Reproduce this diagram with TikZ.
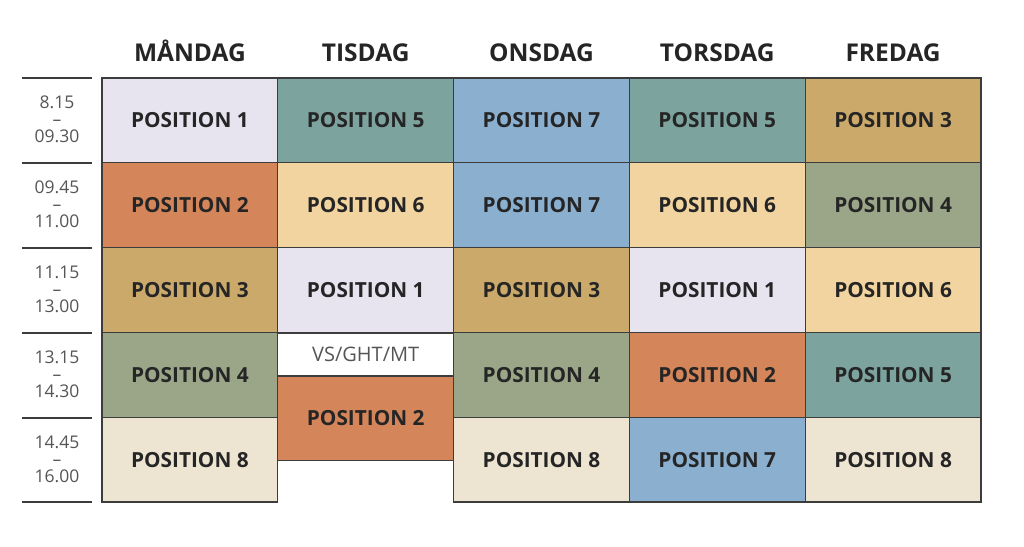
\documentclass[tikz,border=0pt]{standalone}
\usepackage{fontspec}
\setmainfont{Open Sans}
\definecolor{cA}{HTML}{E7E4F0}
\definecolor{cB}{HTML}{D4855A}
\definecolor{cC}{HTML}{CBA96B}
\definecolor{cD}{HTML}{9BA688}
\definecolor{cE}{HTML}{7DA39E}
\definecolor{cF}{HTML}{F2D4A0}
\definecolor{cG}{HTML}{8AAFCF}
\definecolor{cH}{HTML}{EDE4D2}
\definecolor{edge}{HTML}{3C3C3C}
\definecolor{txt}{HTML}{252525}
\definecolor{gtxt}{HTML}{555555}
\begin{document}
\begin{tikzpicture}[x=1pt,y=-1pt,
  cell/.style={draw=edge,line width=1.2pt,minimum width=175.8pt,minimum height=84.8pt,inner sep=0pt,
    font=\fontsize{20.8}{21}\selectfont\bfseries,text=txt},
  half/.style={cell,minimum height=43pt},
  day/.style={anchor=base,font=\fontsize{24.5}{25}\selectfont\bfseries,text=txt},
  tlabel/.style={align=center,font=\fontsize{17.5}{17}\selectfont,text=gtxt},
  sep/.style={line width=2.4pt,draw=edge}]
\useasboundingbox (0,0) rectangle (1024,546);
% headers
\node[day] (hmon) at (189.9,61) {MÅNDAG};
\node[day] (htue) at (365.7,61) {TISDAG};
\node[day] (hwed) at (541.5,61) {ONSDAG};
\node[day] (hthu) at (717.3,61) {TORSDAG};
\node[day] (hfri) at (893.1,61) {FREDAG};
% time separators
\foreach \y [count=\i] in {78,163,248,333,418,502}{
  \coordinate (sl\i) at (22,\y); \coordinate (sr\i) at (92,\y);
  \draw[sep] (sl\i) -- (sr\i);
}
\node[tlabel] (t1) at (57,119.5) {8.15\\–\\09.30};
\node[tlabel] (t2) at (57,204.5) {09.45\\–\\11.00};
\node[tlabel] (t3) at (57,289.5) {11.15\\–\\13.00};
\node[tlabel] (t4) at (57,374.5) {13.15\\–\\14.30};
\node[tlabel] (t5) at (57,459.5) {14.45\\–\\16.00};
% Monday
\node[cell,fill=cA] (m1) at (189.9,120.4) {POSITION 1};
\node[cell,fill=cB] (m2) at (189.9,205.2) {POSITION 2};
\node[cell,fill=cC] (m3) at (189.9,290.0) {POSITION 3};
\node[cell,fill=cD] (m4) at (189.9,374.8) {POSITION 4};
\node[cell,fill=cH] (m5) at (189.9,459.6) {POSITION 8};
% Tuesday
\node[cell,fill=cE] (u1) at (365.7,120.4) {POSITION 5};
\node[cell,fill=cF] (u2) at (365.7,205.2) {POSITION 6};
\node[cell,fill=cA] (u3) at (365.7,290.0) {POSITION 1};
\node[half,fill=white,font=\fontsize{20}{20}\selectfont,text=gtxt] (u4) at (365.7,354.5) {VS/GHT/MT};
\node[cell,fill=cB] (u5) at (365.7,418.4) {POSITION 2};
% Wednesday
\node[cell,fill=cG] (w1) at (541.5,120.4) {POSITION 7};
\node[cell,fill=cG] (w2) at (541.5,205.2) {POSITION 7};
\node[cell,fill=cC] (w3) at (541.5,290.0) {POSITION 3};
\node[cell,fill=cD] (w4) at (541.5,374.8) {POSITION 4};
\node[cell,fill=cH] (w5) at (541.5,459.6) {POSITION 8};
% Thursday
\node[cell,fill=cE] (h1) at (717.3,120.4) {POSITION 5};
\node[cell,fill=cF] (h2) at (717.3,205.2) {POSITION 6};
\node[cell,fill=cA] (h3) at (717.3,290.0) {POSITION 1};
\node[cell,fill=cB] (h4) at (717.3,374.8) {POSITION 2};
\node[cell,fill=cG] (h5) at (717.3,459.6) {POSITION 7};
% Friday
\node[cell,fill=cC] (f1) at (893.1,120.4) {POSITION 3};
\node[cell,fill=cD] (f2) at (893.1,205.2) {POSITION 4};
\node[cell,fill=cF] (f3) at (893.1,290.0) {POSITION 6};
\node[cell,fill=cE] (f4) at (893.1,374.8) {POSITION 5};
\node[cell,fill=cH] (f5) at (893.1,459.6) {POSITION 8};
\end{tikzpicture}
\end{document}
